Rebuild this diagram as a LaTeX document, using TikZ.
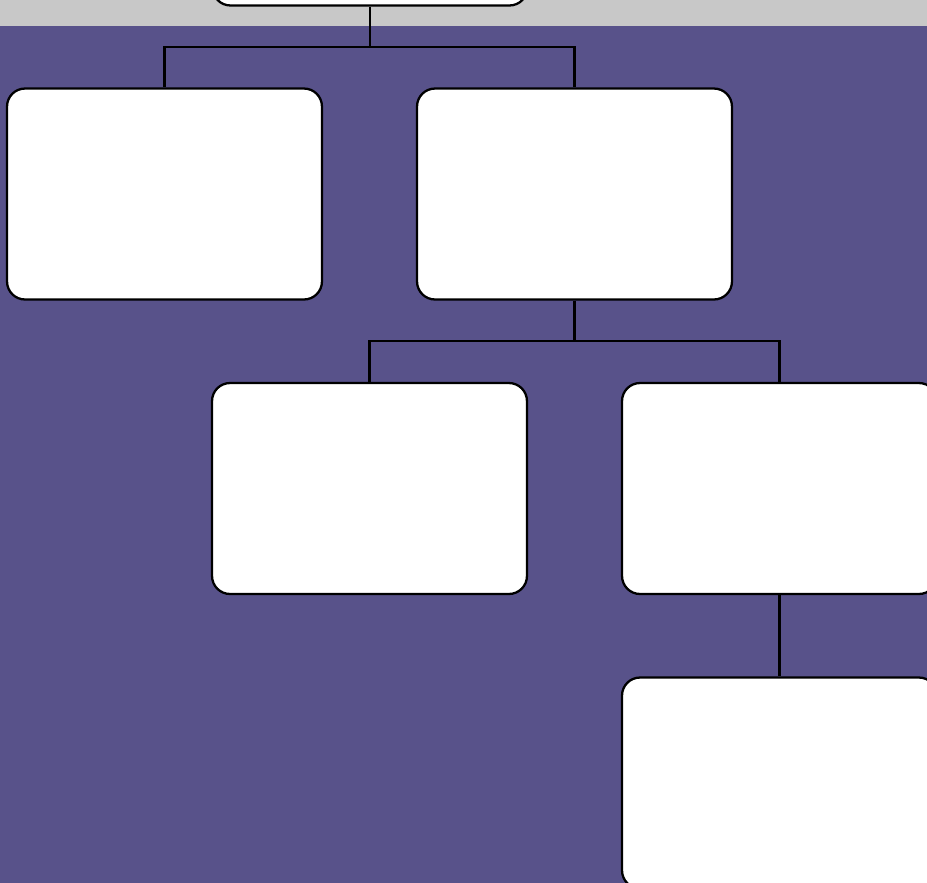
\documentclass[tikz,border=0pt]{standalone}
\usetikzlibrary{calc}
\definecolor{bandgray}{HTML}{C8C8C8}
\definecolor{bgpurple}{HTML}{58528A}
\tikzstyle{card}=[shape=rectangle, rounded corners=0.36cm, draw=black, fill=white, line width=1.3pt, minimum width=6.3cm, minimum height=4.22cm, inner sep=0]
\tikzstyle{link}=[line width=1.4pt]

\begin{document}
\begin{tikzpicture}[x=0.02cm, y=-0.02cm]
\clip (0,0) rectangle (927,883);
\useasboundingbox (0,0) rectangle (927,883);
\fill[bandgray] (0,0) rectangle (927,26);
\fill[bgpurple] (0,26) rectangle (927,883);
\draw (370,-100) node[card](root) {};
\draw (164.5,194) node[card](a) {};
\draw (574.5,194) node[card](b) {};
\draw (369.5,488.5) node[card](c) {};
\draw (779.5,488.5) node[card](d) {};
\draw (779.5,783) node[card](e) {};
\coordinate (j1) at (370,47);
\coordinate (j2) at (574.5,341);
\draw[link] (root.south)--(j1)-|(a.north);
\draw[link] (j1)-|(b.north);
\draw[link] (b.south)--(j2)-|(c.north);
\draw[link] (j2)-|(d.north);
\draw[link] (d.south)--(e.north);
\end{tikzpicture}
\end{document}
